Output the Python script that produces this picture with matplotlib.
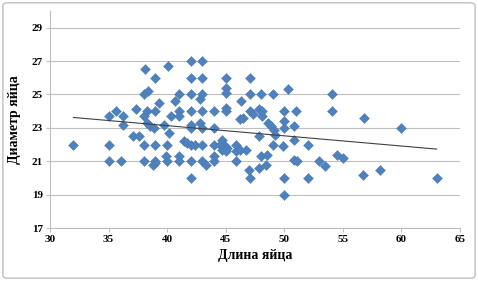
import matplotlib.pyplot as plt
import numpy as np
from matplotlib.patches import FancyBboxPatch

# длина и диаметр яйца
egg_length = [
    32.0, 35.0, 35.0, 35.0, 35.6, 36.2, 36.2, 36.1, 37.3, 37.1, 37.6, 38.1,
    38.0, 38.4, 38.0, 38.3, 38.5, 38.0, 38.0, 38.3, 38.9, 38.8, 39.0, 39.0,
    39.0, 39.3, 39.0, 39.0, 39.7, 40.1, 40.3, 40.2, 40.0, 40.0, 39.9, 40.7,
    41.0, 41.0, 41.0, 41.0, 41.0, 41.4, 41.7, 42.0, 42.0, 42.0, 42.0, 42.0,
    42.0, 42.0, 42.0, 42.0, 42.4, 42.8, 42.8, 43.0, 43.0, 43.0, 43.0, 43.0,
    43.0, 43.0, 43.3, 44.0, 44.0, 44.0, 44.0, 44.0, 45.0, 45.0, 45.0, 45.0,
    45.0, 44.7, 44.5, 44.9, 45.1, 44.7, 45.0, 45.9, 45.9, 45.9, 46.3, 46.2,
    46.5, 46.2, 46.7, 47.1, 47.1, 47.1, 47.3, 47.0, 47.1, 47.8, 48.1, 48.1,
    48.0, 49.0, 47.85, 47.8, 48.4, 48.0, 48.55, 48.6, 48.9, 49.1, 49.2, 49.0,
    49.9, 50.35, 50.0, 50.0, 50.0, 50.8, 50.8, 50.8, 51.05, 50.0, 50.0, 51.0,
    52.05, 52.05, 53.0, 53.5, 54.05, 54.05, 54.5, 55.0, 56.7, 56.8, 58.2, 60.0,
    63.0,
]
egg_diameter = [
    22.0, 23.7, 22.0, 21.0, 24.0, 23.7, 23.2, 21.0, 24.1, 22.5, 22.5, 26.5,
    25.0, 25.2, 23.7, 23.3, 23.1, 22.0, 21.0, 24.0, 23.0, 20.8, 20.9, 26.0,
    24.0, 24.5, 22.0, 21.0, 23.2, 26.7, 23.7, 22.7, 22.0, 21.0, 21.3, 24.6,
    25.0, 24.0, 23.7, 21.3, 21.0, 22.2, 22.1, 27.0, 26.0, 25.0, 24.0, 23.2,
    23.0, 22.0, 21.0, 20.0, 22.0, 24.7, 23.3, 27.0, 26.0, 25.0, 24.0, 23.0,
    22.0, 21.0, 20.8, 24.0, 23.0, 22.0, 21.3, 21.0, 26.0, 25.4, 25.1, 24.2,
    24.0, 22.3, 22.0, 21.9, 21.8, 21.7, 21.6, 22.0, 21.6, 21.0, 24.6, 23.5,
    23.6, 21.7, 21.7, 26.0, 25.0, 24.0, 23.8, 20.5, 20.0, 24.1, 24.0, 23.7,
    25.0, 25.0, 22.5, 20.6, 20.8, 21.3, 21.4, 23.3, 23.1, 22.9, 22.6, 22.0,
    21.9, 25.3, 24.0, 23.4, 23.0, 23.1, 22.3, 21.1, 21.0, 20.0, 19.0, 24.0,
    22.0, 20.0, 21.0, 20.7, 25.0, 24.0, 21.4, 21.2, 20.2, 23.6, 20.5, 23.0,
    20.0,
]
x_ticks = [30, 35, 40, 45, 50, 55, 60, 65]
y_ticks = [17, 19, 21, 23, 25, 27, 29]

plt.rcParams['font.family'] = ['Liberation Serif', 'DejaVu Serif']

fig = plt.figure(figsize=(4.78, 2.81), dpi=100)
ax = fig.add_axes([50 / 478, 1 - 228 / 281, 410 / 478, 217 / 281])

# рамка области диаграммы
fig.patches.append(FancyBboxPatch((0.006, 0.01), 0.988, 0.98,
                                  boxstyle="round,pad=0,rounding_size=0.01",
                                  transform=fig.transFigure, fill=False,
                                  edgecolor='#bfbfbf', linewidth=1.0))

ax.scatter(egg_length, egg_diameter, marker='D', s=26, color='#4f81bd',
           edgecolors='#4a7ab3', linewidths=0.3, zorder=3)

# линейный тренд
k, b = np.polyfit(egg_length, egg_diameter, 1)
xs = np.array([min(egg_length), max(egg_length)])
ax.plot(xs, k * xs + b, color='#404040', linewidth=0.8, zorder=4)

ax.set_xlim(30, 65)
ax.set_ylim(17, 30)
ax.set_xticks(x_ticks)
ax.set_yticks(y_ticks)
ax.grid(axis='y', color='#bfbfbf', linewidth=0.8)
ax.set_axisbelow(True)
for side in ['top', 'right']:
    ax.spines[side].set_visible(False)
for side in ['left', 'bottom']:
    ax.spines[side].set_color('#bfbfbf')
    ax.spines[side].set_linewidth(0.8)
ax.tick_params(axis='both', length=3, width=0.8, color='#bfbfbf',
               labelsize=8, pad=2)
for lbl in ax.get_xticklabels() + ax.get_yticklabels():
    lbl.set_fontweight('bold')

ax.set_xlabel('Длина яйца', fontsize=10, fontweight='bold', labelpad=4)
ax.set_ylabel('Диаметр яйца', fontsize=10, fontweight='bold', labelpad=8)

fig.savefig('out.png', dpi=100)
